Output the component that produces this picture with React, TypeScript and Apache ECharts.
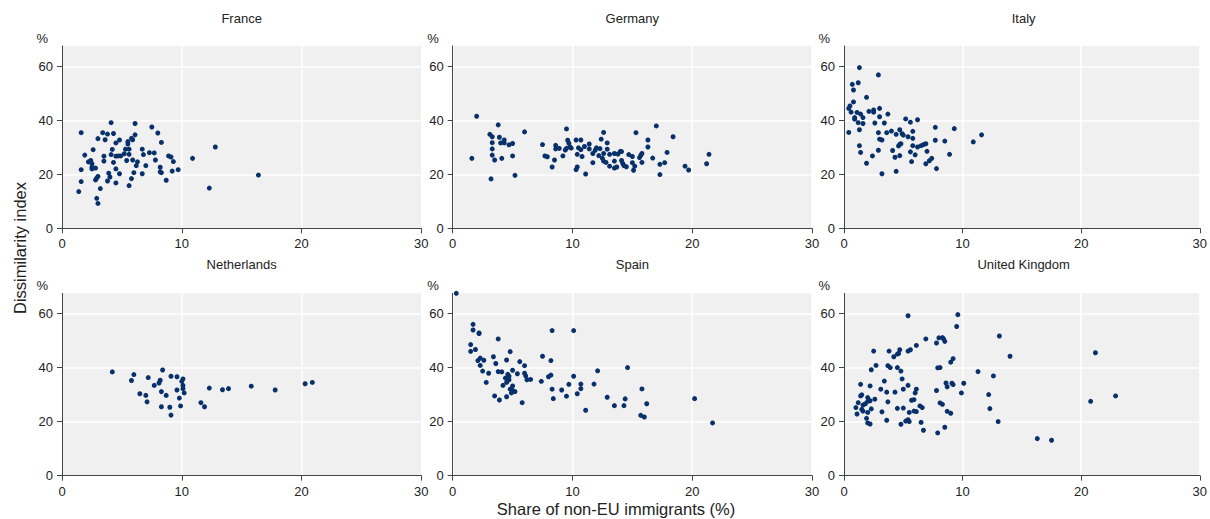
import React, { useEffect, useRef } from "react";
import * as echarts from "echarts";

const panelNames = ["France", "Germany", "Italy", "Netherlands", "Spain", "United Kingdom"];
const xTicks = [0, 10, 20, 30];
const yTicks = [0, 20, 40, 60];
const yTitle = "Dissimilarity index";
const xTitle = "Share of non-EU immigrants (%)";

const franceData = [
  [1.6, 35.4], [4.1, 39.1], [6.1, 38.8], [7.5, 37.5], [8.0, 35.3], [8.3, 31.8], [3.4, 35.4], [3.8, 34.9],
  [4.3, 35.1], [3.0, 33.2], [3.6, 32.8], [4.8, 32.7], [4.5, 31.6], [5.8, 33.3], [5.9, 32.8], [6.1, 34.6],
  [5.5, 32.1], [5.5, 31.2], [2.6, 29.1], [4.2, 29.2], [5.3, 29.3], [5.6, 29.3], [6.7, 29.3], [1.9, 27.1],
  [3.5, 26.7], [4.5, 26.7], [4.7, 26.8], [4.9, 26.8], [4.1, 27.3], [5.2, 27.6], [5.6, 27.4], [6.8, 27.3],
  [7.3, 28.0], [7.7, 27.9], [7.8, 25.3], [8.9, 26.8], [9.1, 26.4], [9.3, 24.7], [10.9, 25.9], [12.8, 30.1],
  [16.4, 19.7], [12.3, 14.9], [2.2, 24.6], [2.4, 25.1], [2.5, 23.9], [2.5, 22.6], [2.5, 22.0], [2.8, 22.3],
  [1.6, 21.7], [1.6, 17.3], [1.4, 13.6], [3.5, 24.9], [4.3, 24.4], [5.4, 25.1], [5.9, 25.3], [6.3, 24.6],
  [6.2, 23.2], [7.0, 23.2], [8.2, 22.6], [8.2, 20.9], [8.3, 20.6], [9.2, 21.2], [9.7, 21.7], [8.7, 17.8],
  [4.5, 22.0], [4.8, 20.2], [3.9, 20.4], [4.0, 19.0], [3.8, 17.5], [3.0, 19.2], [2.9, 18.6], [2.8, 17.9],
  [3.2, 14.7], [4.5, 16.8], [5.8, 18.4], [6.0, 20.6], [5.6, 15.8], [6.7, 20.2], [2.9, 11.1], [3.0, 9.2],
];

const germanyData = [
  [2.0, 41.5], [1.6, 25.9], [3.8, 38.3], [3.2, 18.3], [5.2, 19.6], [3.1, 34.8], [3.3, 33.9], [3.9, 33.7],
  [4.3, 32.7], [4.0, 31.6], [4.3, 31.6], [3.3, 31.7], [3.3, 29.4], [3.3, 27.1], [3.5, 25.3], [4.1, 25.9],
  [4.7, 30.9], [5.0, 31.4], [5.0, 26.8], [6.0, 35.7], [7.5, 31.0], [7.7, 26.8], [7.9, 26.5], [8.3, 22.7],
  [8.5, 25.3], [8.6, 30.7], [8.6, 29.4], [8.9, 29.6], [9.2, 26.8], [9.4, 29.0], [9.5, 36.8], [9.6, 32.6],
  [9.7, 31.5], [9.8, 30.1], [9.5, 29.6], [9.9, 29.7], [10.3, 32.7], [10.7, 32.7], [10.4, 27.4], [10.3, 21.7],
  [10.4, 22.7], [10.5, 29.8], [10.7, 29.1], [10.8, 26.6], [11.0, 30.3], [11.1, 20.1], [11.4, 31.2], [11.4, 29.4],
  [11.7, 27.7], [11.7, 24.3], [11.9, 28.9], [12.0, 29.8], [12.2, 26.9], [12.3, 29.5], [12.4, 33.0], [12.6, 35.5],
  [12.5, 25.9], [12.6, 27.7], [12.6, 24.9], [12.8, 24.4], [12.9, 31.6], [12.9, 29.3], [13.1, 23.0], [13.1, 27.4],
  [13.5, 24.9], [13.5, 27.7], [13.5, 22.3], [13.7, 22.7], [13.8, 27.5], [14.0, 28.5], [14.1, 28.4], [14.1, 25.1],
  [14.2, 24.0], [14.3, 23.2], [14.5, 22.8], [14.7, 27.3], [15.0, 26.6], [15.0, 24.3], [15.1, 21.5], [15.2, 23.0],
  [15.3, 35.4], [15.6, 26.2], [15.7, 27.0], [15.8, 27.7], [15.8, 24.4], [16.3, 32.7], [16.3, 30.1], [16.7, 26.0],
  [17.0, 37.9], [17.3, 23.7], [17.3, 19.9], [17.7, 24.3], [17.9, 28.1], [18.4, 33.9], [19.4, 23.0], [19.7, 21.6],
  [21.2, 23.9], [21.4, 27.4],
];

const italyData = [
  [1.3, 59.5], [2.9, 56.8], [0.7, 53.3], [1.2, 53.9], [0.8, 51.2], [1.9, 48.5], [0.8, 46.8], [0.5, 45.3],
  [0.4, 44.4], [0.6, 43.0], [0.9, 41.0], [0.9, 40.4], [1.1, 42.9], [1.4, 42.3], [1.6, 41.0], [1.2, 39.1],
  [1.6, 38.8], [2.1, 43.3], [2.5, 43.8], [2.5, 43.0], [3.0, 44.4], [3.0, 41.3], [3.7, 42.3], [2.6, 39.0],
  [3.4, 39.0], [0.4, 35.5], [1.3, 36.5], [1.3, 30.6], [1.4, 28.1], [1.9, 24.1], [2.4, 26.8], [2.9, 35.4],
  [3.0, 33.0], [3.2, 32.7], [2.9, 28.9], [3.2, 20.2], [3.6, 35.4], [4.0, 36.0], [4.4, 34.8], [4.7, 36.5],
  [4.9, 35.0], [5.0, 34.5], [5.2, 40.5], [5.6, 39.3], [6.2, 40.2], [5.4, 33.9], [5.8, 35.9], [5.8, 33.3],
  [4.1, 28.8], [4.6, 30.5], [4.7, 31.1], [4.8, 31.3], [4.7, 26.9], [4.3, 26.3], [4.4, 21.1], [5.6, 28.3],
  [5.7, 24.7], [5.8, 30.6], [6.0, 27.2], [6.2, 30.1], [6.5, 30.6], [6.7, 31.0], [6.9, 31.3], [7.0, 28.5],
  [6.9, 23.9], [7.2, 25.0], [7.4, 25.9], [7.8, 22.1], [7.7, 37.4], [7.7, 32.6], [8.5, 32.3], [8.9, 27.4],
  [9.3, 36.9], [10.9, 32.0], [11.6, 34.6],
];

const netherlandsData = [
  [4.2, 38.4], [6.0, 37.4], [5.8, 35.2], [7.2, 36.3], [8.4, 39.1], [8.2, 35.3], [8.1, 34.3], [7.7, 33.4],
  [9.1, 36.8], [9.6, 36.6], [10.1, 35.8], [10.0, 34.9], [10.1, 33.4], [10.1, 32.2], [9.6, 31.7], [10.2, 30.6],
  [8.3, 31.1], [8.7, 29.7], [6.5, 30.3], [7.0, 29.7], [7.1, 27.3], [9.8, 28.7], [8.3, 25.5], [9.0, 25.3],
  [9.9, 25.8], [9.1, 22.4], [11.6, 27.0], [11.9, 25.5], [12.3, 32.4], [13.4, 31.8], [13.9, 32.2], [15.8, 33.1],
  [17.8, 31.7], [20.3, 34.0], [20.9, 34.5],
];

const spainData = [
  [0.3, 67.5], [1.7, 56.0], [1.7, 53.9], [2.2, 52.6], [2.2, 52.8], [1.5, 48.5], [1.5, 46.0], [1.9, 46.7],
  [3.8, 50.6], [2.1, 42.6], [2.3, 43.5], [2.6, 42.7], [2.3, 40.8], [2.5, 38.7], [2.8, 34.5], [3.0, 37.9],
  [3.4, 44.0], [3.6, 41.5], [3.8, 38.5], [4.1, 38.4], [4.5, 42.8], [4.8, 45.9], [4.2, 33.4], [4.4, 36.1],
  [4.6, 37.5], [4.7, 35.5], [4.7, 36.8], [5.0, 39.0], [4.5, 34.5], [4.8, 32.0], [5.0, 33.2], [4.9, 30.6],
  [5.0, 31.5], [5.2, 31.1], [3.5, 29.5], [3.9, 28.0], [4.5, 29.2], [5.4, 37.7], [5.6, 42.2], [6.0, 40.7],
  [6.0, 37.9], [6.1, 36.9], [6.2, 35.5], [6.5, 35.6], [5.8, 27.0], [7.5, 44.2], [7.4, 34.9], [8.0, 36.6],
  [8.2, 37.2], [8.2, 42.6], [8.3, 53.7], [8.3, 32.0], [8.4, 28.5], [9.1, 31.7], [9.5, 29.4], [9.7, 33.8],
  [10.1, 53.7], [10.1, 36.8], [10.4, 30.3], [10.7, 33.9], [10.7, 32.2], [11.1, 24.2], [11.8, 33.9], [12.1, 38.8],
  [12.9, 29.0], [13.5, 25.9], [14.6, 40.0], [15.8, 32.1], [14.4, 28.4], [14.3, 25.9], [16.2, 26.6], [15.7, 22.3],
  [16.0, 21.7], [20.2, 28.5], [21.7, 19.5],
];

const ukData = [
  [5.4, 59.2], [9.6, 59.6], [9.5, 55.2], [13.1, 51.7], [14.0, 44.2], [6.9, 50.6], [7.8, 49.1], [8.0, 51.0],
  [8.3, 51.1], [8.4, 50.6], [8.5, 49.7], [6.1, 48.2], [5.6, 46.6], [5.4, 46.1], [4.7, 46.6], [4.6, 45.2],
  [4.5, 45.0], [4.2, 44.0], [3.8, 46.1], [2.5, 46.1], [2.7, 40.8], [2.3, 39.2], [3.7, 40.7], [3.9, 40.0],
  [4.5, 40.0], [4.8, 38.7], [4.9, 35.8], [3.4, 35.0], [1.4, 33.8], [2.2, 33.2], [3.1, 32.0], [5.0, 32.0],
  [5.4, 33.4], [6.1, 32.0], [6.0, 30.6], [3.6, 30.9], [4.3, 30.9], [1.5, 29.9], [1.4, 29.5], [1.2, 27.0],
  [1.0, 25.2], [1.1, 22.8], [1.5, 24.5], [1.6, 26.1], [1.8, 26.6], [2.0, 28.9], [2.2, 27.7], [2.0, 27.5],
  [2.6, 28.3], [1.6, 23.9], [2.0, 23.4], [2.3, 24.7], [1.9, 21.2], [2.0, 19.5], [2.2, 19.1], [3.2, 23.6],
  [3.7, 27.3], [3.6, 20.5], [4.5, 24.9], [5.0, 25.0], [4.8, 19.0], [5.2, 20.2], [5.4, 20.7], [5.5, 20.0],
  [5.5, 23.4], [5.7, 27.9], [5.9, 28.1], [5.9, 23.9], [6.1, 23.7], [6.4, 25.8], [6.6, 25.2], [6.5, 19.7],
  [6.7, 16.8], [7.8, 31.5], [7.9, 39.9], [8.1, 40.0], [7.9, 15.8], [8.5, 17.9], [8.1, 26.9], [8.3, 26.4],
  [8.7, 23.8], [9.0, 23.1], [8.6, 34.3], [8.7, 32.9], [9.1, 34.2], [9.2, 33.7], [9.0, 42.0], [9.2, 43.3],
  [10.1, 34.2], [9.9, 30.6], [11.3, 38.5], [12.6, 36.9], [12.2, 30.0], [12.3, 24.8], [13.0, 20.0], [21.2, 45.5],
  [20.8, 27.5], [22.9, 29.5], [16.3, 13.7], [17.5, 13.1],
];

const panelData = [franceData, germanyData, italyData, netherlandsData, spainData, ukData];

const FONT = "Liberation Sans, Arial, Helvetica, sans-serif";
const colLefts = [62, 452.7, 844];
const rowTops = [46, 293.3];
const PW = 359.3;
const PH = 182.3;

export default function App() {
  const ref = useRef<HTMLDivElement>(null);
  useEffect(() => {
    if (!ref.current) return;
    const chart = echarts.init(ref.current, null, { renderer: "svg" });
    const grids: any[] = [];
    const xAxes: any[] = [];
    const yAxes: any[] = [];
    const series: any[] = [];
    const titles: any[] = [];
    panelNames.forEach((name, i) => {
      const col = i % 3;
      const row = Math.floor(i / 3);
      const left = colLefts[col];
      const top = rowTops[row];
      grids.push({
        left, top, width: PW, height: PH, show: true,
        backgroundColor: "#f0f0f0", borderWidth: 0, containLabel: false,
      });
      xAxes.push({
        gridIndex: i, type: "value", min: 0, max: 30, interval: 10,
        axisLine: { show: true, onZero: false, lineStyle: { color: "#444", width: 1 } },
        axisTick: { show: true, length: 5, lineStyle: { color: "#444" }, customValues: xTicks },
        axisLabel: { color: "#222", fontSize: 13, fontFamily: FONT, margin: 9, customValues: xTicks },
        splitLine: { show: true, lineStyle: { color: "#ffffff", width: 1.5 } },
      });
      yAxes.push({
        gridIndex: i, type: "value", min: 0, max: 67.5, interval: 20,
        name: "%", nameLocation: "end", nameGap: 1,
        nameTextStyle: { color: "#222", fontSize: 13, fontFamily: FONT, align: "right", verticalAlign: "bottom", padding: [0, 14, 0, 0] },
        axisLine: { show: true, onZero: false, lineStyle: { color: "#444", width: 1 } },
        axisTick: { show: true, length: 5, lineStyle: { color: "#444" }, customValues: yTicks },
        axisLabel: { color: "#222", fontSize: 13, fontFamily: FONT, margin: 9, customValues: yTicks },
        splitLine: { show: true, lineStyle: { color: "#ffffff", width: 1.5 } },
      });
      series.push({
        type: "scatter", xAxisIndex: i, yAxisIndex: i, data: panelData[i],
        symbol: "circle", symbolSize: 5, clip: false,
        itemStyle: { color: "#08306a", opacity: 1 },
      });
      titles.push({
        text: name, left: left + PW / 2, top: row === 0 ? 12 : 257.5, textAlign: "center", padding: 0,
        textStyle: { color: "#222", fontSize: 13, fontWeight: "normal", fontFamily: FONT },
      });
    });
    chart.setOption({
      animation: false,
      backgroundColor: "#ffffff",
      title: titles,
      grid: grids,
      xAxis: xAxes,
      yAxis: yAxes,
      series,
      graphic: [
        {
          type: "text", x: 20, y: 248, rotation: Math.PI / 2,
          style: { text: yTitle, fill: "#222", fontSize: 16.5, fontFamily: FONT, align: "center", verticalAlign: "middle" },
        },
        {
          type: "text", x: 616, y: 509,
          style: { text: xTitle, fill: "#222", fontSize: 16.5, fontFamily: FONT, align: "center", verticalAlign: "middle" },
        },
      ],
    });
    return () => chart.dispose();
  }, []);
  return <div ref={ref} style={{ position: "absolute", left: 0, top: 0, width: 1210, height: 519 }} />;
}
